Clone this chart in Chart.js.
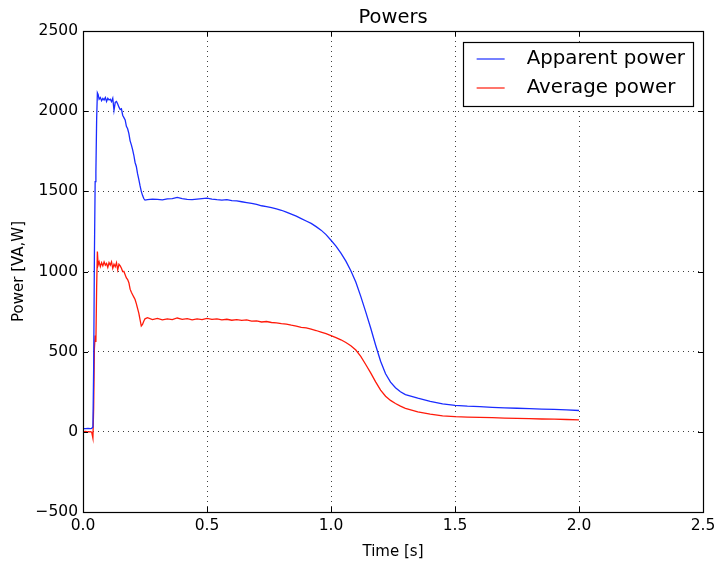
<!DOCTYPE html>
<html>
<head>
<meta charset="utf-8">
<script src="https://cdn.jsdelivr.net/npm/chart.js@4/dist/chart.umd.min.js"></script>
<style>
  html, body { margin: 0; padding: 0; background: #fff; }
  #wrap { width: 725px; height: 570px; }
</style>
</head>
<body>
<div id="wrap"><canvas id="powerChart" width="725" height="570"></canvas></div>
<script>
// time [s]
const time = [
  0, 0.01, 0.02, 0.03, 0.035, 0.04, 0.043, 0.046, 0.049, 0.052,
  0.055, 0.058, 0.061, 0.065, 0.07, 0.075, 0.08, 0.085, 0.09, 0.095,
  0.1, 0.105, 0.11, 0.115, 0.12, 0.125, 0.13, 0.135, 0.14, 0.145,
  0.15, 0.155, 0.16, 0.165, 0.17, 0.175, 0.18, 0.185, 0.19, 0.195,
  0.2, 0.205, 0.21, 0.215, 0.22, 0.225, 0.23, 0.235, 0.24, 0.245,
  0.25, 0.26, 0.28, 0.3, 0.32, 0.34, 0.36, 0.38, 0.4, 0.42,
  0.44, 0.46, 0.48, 0.5, 0.52, 0.54, 0.56, 0.58, 0.6, 0.62,
  0.64, 0.66, 0.68, 0.7, 0.72, 0.74, 0.76, 0.78, 0.8, 0.82,
  0.84, 0.86, 0.88, 0.9, 0.92, 0.94, 0.96, 0.98, 1.0, 1.02,
  1.04, 1.06, 1.08, 1.1, 1.12, 1.14, 1.16, 1.18, 1.2, 1.22,
  1.24, 1.26, 1.28, 1.3, 1.35, 1.4, 1.45, 1.5, 1.55, 1.6,
  1.65, 1.7, 1.75, 1.8, 1.85, 1.9, 1.95, 2.0
];

// apparent power [VA]
const apparentPower = [
  20, 20, 21, 20, 22, 30, 400, 1100, 1560, 1620,
  1950, 2115, 2105, 2075, 2085, 2065, 2080, 2070, 2085, 2060,
  2080, 2070, 2075, 2060, 2080, 2005, 2055, 2060, 2045, 2025,
  2010, 2015, 1975, 1960, 1945, 1905, 1890, 1860, 1815, 1790,
  1760, 1725, 1680, 1655, 1610, 1575, 1535, 1500, 1475, 1455,
  1445, 1448, 1452, 1450, 1447, 1453, 1455, 1462, 1455, 1450,
  1448, 1452, 1455, 1458, 1452, 1448, 1445, 1448, 1442, 1440,
  1435, 1430, 1425, 1418, 1410, 1405, 1398, 1390, 1382, 1370,
  1358, 1345, 1330, 1315, 1300, 1280, 1258, 1230, 1195, 1158,
  1115, 1065, 1005, 935, 845, 748, 648, 540, 440, 362,
  310, 275, 250, 232, 210, 190, 175, 165, 160, 157,
  153, 150, 147, 145, 142, 140, 137, 133
];

// average power [W]
const averagePower = [
  0, 2, 0, 1, -2, -40, 150, 520, 600, 560,
  900, 1125, 1040, 1060, 1030, 1055, 1035, 1060, 1040, 1050,
  1025, 1055, 1040, 1060, 1020, 1045, 1030, 1055, 1010, 1045,
  1035, 1020, 1000, 1000, 980, 960, 950, 930, 890, 870,
  855, 840, 825, 800, 770, 740, 700, 660, 670, 690,
  705, 712, 700, 708, 698, 705, 700, 710, 702, 706,
  698, 704, 700, 708, 702, 705, 698, 702, 696, 700,
  695, 698, 690, 692, 685, 688, 682, 680, 675, 672,
  665, 660, 652, 648, 640, 632, 622, 612, 600, 588,
  574, 557, 537, 510, 470, 420, 368, 312, 260, 222,
  196, 177, 160, 147, 125, 110, 100, 95, 92, 90,
  88, 86, 84, 82, 80, 79, 77, 75
];

const seriesNames = ["Apparent power", "Average power"];
const xTicks = [0, 0.5, 1.0, 1.5, 2.0, 2.5];
const yTicks = [-500, 0, 500, 1000, 1500, 2000, 2500];

const FONT = "'DejaVu Sans', sans-serif";

function toPoints(xs, ys) {
  return xs.map((x, i) => ({ x: x, y: ys[i] }));
}

// frame + inward ticks on all four sides (matplotlib classic look)
const framePlugin = {
  id: "frame",
  afterDatasetsDraw(chart) {
    const { ctx, chartArea: a, scales } = chart;
    ctx.save();
    ctx.strokeStyle = "#000";
    ctx.lineWidth = 1;
    scales.x.ticks.forEach(t => {
      const px = Math.round(scales.x.getPixelForValue(t.value)) + 0.5;
      ctx.beginPath();
      ctx.moveTo(px, a.bottom); ctx.lineTo(px, a.bottom - 5);
      ctx.moveTo(px, a.top); ctx.lineTo(px, a.top + 5);
      ctx.stroke();
    });
    scales.y.ticks.forEach(t => {
      const py = Math.round(scales.y.getPixelForValue(t.value)) + 0.5;
      ctx.beginPath();
      ctx.moveTo(a.left, py); ctx.lineTo(a.left + 5, py);
      ctx.moveTo(a.right, py); ctx.lineTo(a.right - 5, py);
      ctx.stroke();
    });
    ctx.lineWidth = 1.2;
    ctx.strokeRect(Math.round(a.left) + 0.5, Math.round(a.top) + 0.5,
      Math.round(a.right - a.left), Math.round(a.bottom - a.top));
    ctx.restore();
  }
};

// boxed legend inside the upper right corner
const boxLegend = {
  id: "boxLegend",
  afterDraw(chart) {
    const { ctx, chartArea: a } = chart;
    const sets = chart.data.datasets;
    ctx.save();
    ctx.font = "19.8px " + FONT;
    let textW = 0;
    sets.forEach(d => { textW = Math.max(textW, ctx.measureText(d.label).width); });
    const rowH = 29;
    const w = 14 + 28 + 22 + textW + 8;
    const h = rowH * sets.length + 6;
    const x0 = a.right - 10 - w;
    const y0 = a.top + 11;
    ctx.fillStyle = "#fff";
    ctx.fillRect(x0, y0, w, h);
    ctx.strokeStyle = "#000";
    ctx.lineWidth = 1.2;
    ctx.strokeRect(Math.round(x0) + 0.5, Math.round(y0) + 0.5, Math.round(w), Math.round(h));
    sets.forEach((d, i) => {
      const cy = y0 + 17 + i * rowH;
      ctx.strokeStyle = d.borderColor;
      ctx.lineWidth = 1.2;
      ctx.beginPath();
      ctx.moveTo(x0 + 14, cy); ctx.lineTo(x0 + 42, cy);
      ctx.stroke();
      ctx.fillStyle = "#000";
      ctx.textBaseline = "middle";
      ctx.fillText(d.label, x0 + 64, cy);
    });
    ctx.restore();
  }
};

const ctx = document.getElementById("powerChart").getContext("2d");
new Chart(ctx, {
  type: "line",
  data: {
    datasets: [{
      label: seriesNames[0],
      data: toPoints(time, apparentPower),
      borderColor: "#1a2cff",
      borderWidth: 1.3,
      pointRadius: 0,
      tension: 0,
      fill: false
    }, {
      label: seriesNames[1],
      data: toPoints(time, averagePower),
      borderColor: "#ff1a0a",
      borderWidth: 1.3,
      pointRadius: 0,
      tension: 0,
      fill: false
    }]
  },
  options: {
    responsive: false,
    animation: false,
    devicePixelRatio: 1,
    layout: { padding: { left: 0, right: 22, top: 0, bottom: 0 } },
    plugins: {
      legend: { display: false },
      tooltip: { enabled: false },
      title: {
        display: true,
        fullSize: false,
        text: "Powers",
        color: "#000",
        font: { family: FONT, size: 19.5, weight: "normal" },
        padding: { top: 6.3, bottom: 1.3 }
      }
    },
    scales: {
      x: {
        type: "linear",
        min: 0,
        max: 2.5,
        afterBuildTicks: s => { s.ticks = xTicks.map(v => ({ value: v })); },
        afterFit: s => { s.height = 58; },
        ticks: {
          color: "#000",
          padding: 5,
          maxRotation: 0,
          font: { family: FONT, size: 15.5 },
          callback: v => Number(v).toFixed(1)
        },
        grid: { color: "rgba(0,0,0,0.75)", lineWidth: 1, tickLength: 0, drawTicks: false },
        border: { display: false, dash: [1, 4] },
        title: {
          display: true,
          text: "Time [s]",
          color: "#000",
          font: { family: FONT, size: 15 },
          padding: { top: 0, bottom: 9 }
        }
      },
      y: {
        type: "linear",
        min: -500,
        max: 2500,
        afterBuildTicks: s => { s.ticks = yTicks.map(v => ({ value: v })); },
        afterFit: s => { s.width = 83; },
        ticks: {
          color: "#000",
          padding: 5,
          font: { family: FONT, size: 15.5 },
          callback: v => v < 0 ? "\u2212" + Math.abs(v) : String(v)
        },
        grid: { color: "rgba(0,0,0,0.75)", lineWidth: 1, tickLength: 0, drawTicks: false },
        border: { display: false, dash: [1, 4] },
        title: {
          display: true,
          text: "Power [VA,W]",
          color: "#000",
          font: { family: FONT, size: 15 },
          padding: { top: 10, bottom: 0 }
        }
      }
    }
  },
  plugins: [framePlugin, boxLegend]
});
</script>
</body>
</html>
